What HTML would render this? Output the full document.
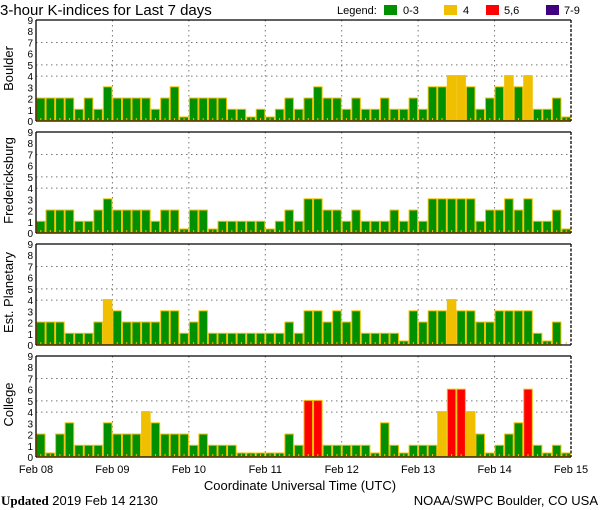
<!DOCTYPE html>
<html><head><meta charset="utf-8">
<style>
html,body{margin:0;padding:0;background:#fff;}
svg{display:block;font-family:"Liberation Sans",sans-serif;}
</style></head>
<body>
<svg id="chart" width="600" height="510" viewBox="0 0 600 510" xmlns="http://www.w3.org/2000/svg">
<text x="0" y="15" font-size="15">3-hour K-indices for Last 7 days</text>
<g font-size="11">
  <text x="337" y="14">Legend:</text>
  <rect x="384" y="5" width="13" height="10" fill="#009000"/>
  <text x="403" y="14">0-3</text>
  <rect x="444" y="5" width="13" height="10" fill="#f0c000"/>
  <text x="463" y="14">4</text>
  <rect x="486" y="5" width="13" height="10" fill="#ff0000"/>
  <text x="504" y="14">5,6</text>
  <rect x="546" y="5" width="13" height="10" fill="#400080"/>
  <text x="564" y="14">7-9</text>
</g>
<g id="panels"></g>
<text x="300" y="490" font-size="13" text-anchor="middle">Coordinate Universal Time (UTC)</text>
<text x="1" y="505" font-size="13"><tspan font-family="Liberation Serif" font-weight="bold">Updated</tspan> 2019 Feb 14 2130</text>
<text x="598" y="505" font-size="13" text-anchor="end">NOAA/SWPC Boulder, CO USA</text>
</svg>
<script>
const stations = ["Boulder", "Fredericksburg", "Est. Planetary", "College"];
const dayLabels = ["Feb 08", "Feb 09", "Feb 10", "Feb 11", "Feb 12", "Feb 13", "Feb 14", "Feb 15"];
const yTicks = [0,1,2,3,4,5,6,7,8,9];
const boulderK = [2,2,2,2,1,2,1,3, 2,2,2,2,1,2,3,0, 2,2,2,2,1,1,0,1, 0,1,2,1,2,3,2,2, 1,2,1,1,2,1,1,2, 1,3,3,4,4,3,1,2, 3,4,3,4,1,1,2,0];
const fredericksburgK = [1,2,2,2,1,1,2,3, 2,2,2,2,1,2,2,0, 2,2,0,1,1,1,1,1, 0,1,2,1,3,3,2,2, 1,2,1,1,1,2,1,2, 1,3,3,3,3,3,1,2, 2,3,2,3,1,1,2,0];
const planetaryK = [2,2,2,1,1,1,2,4, 3,2,2,2,2,3,3,1, 2,3,1,1,1,1,1,1, 1,1,2,1,3,3,2,3, 2,3,1,1,1,1,0,3, 2,3,3,4,3,3,2,2, 3,3,3,3,1,0,2,null];
const collegeK = [2,0,2,3,1,1,1,3, 2,2,2,4,3,2,2,2, 1,2,1,1,1,0,0,0, 0,0,2,1,5,5,1,1, 1,1,1,0,3,1,0,1, 1,1,4,6,6,4,2,0, 1,2,3,6,1,0,1,0];
const series = [boulderK, fredericksburgK, planetaryK, collegeK];

const NS = "http://www.w3.org/2000/svg";
const X0 = 36, X1 = 571, PH = 101, PT = [20,132,244,356];
const nBars = 56;
const xScale = i => X0 + (X1 - X0) * i / nBars;
function yScale(top, v){ return top + PH - v * PH / 9; }
function color(v){ return v >= 7 ? "#400080" : v >= 5 ? "#ff0000" : v >= 4 ? "#f0c000" : "#009000"; }
function mk(tag, attrs, parent){ const e = document.createElementNS(NS, tag); for (const k in attrs) e.setAttribute(k, attrs[k]); parent.appendChild(e); return e; }
const root = document.getElementById("panels");

stations.forEach((name, p) => {
  const top = PT[p], bot = top + PH;
  const g = mk("g", {}, root);
  
  
  [4,5,7].forEach(v => {
    const l = mk("line", {x1:X0, x2:X1, y1:yScale(top,v), y2:yScale(top,v), stroke:"#777", "stroke-dasharray":"1.5,3.5"}, g);
    
    
  });
  for (let d = 1; d < 7; d++) {
    const x = xScale(d*8);
    const l = mk("line", {x1:x, x2:x, y1:top, y2:bot, stroke:"#777", "stroke-dasharray":"1.5,3.5"}, g);
    
    
  }
  series[p].forEach((v, i) => {
    if (v === null) return;
    const x = xScale(i), w = xScale(i+1) - x;
    const h = v === 0 ? 3.5 : v * PH / 9;
    const r = mk("rect", {x:x+0.5, y:bot-h-0.5, width:w-1, height:h, fill:color(v), stroke:"#f0c000", "stroke-width":1}, g);
    
    
  });
  for (let i = 0; i < nBars; i++) {
    const cx = (xScale(i) + xScale(i+1)) / 2;
    const t = mk("rect", {x:cx-0.5, y:bot-3, width:1, height:2, fill:"#f0c000"}, g);
    
    
  }
  const fr = [
    mk("line", {x1:X0, x2:X1, y1:top, y2:top, stroke:"#000", "stroke-width":1.3}, g),
    mk("line", {x1:X0, x2:X1, y1:bot, y2:bot, stroke:"#000", "stroke-width":1.3}, g),
    mk("line", {x1:X0, x2:X0, y1:top, y2:bot, stroke:"#000", "stroke-width":1.3}, g),
    mk("line", {x1:X1, x2:X1, y1:top, y2:bot, stroke:"#000", "stroke-width":1.3, "stroke-dasharray":"3,1.5"}, g)
  ];
  fr.forEach(l => {   });
  yTicks.forEach(v => {
    const t = mk("text", {x:33, y:yScale(top,v)+4, "font-size":10, "text-anchor":"end"}, g);
    t.textContent = v;
    
    
  });
  const lab = mk("text", {x:0, y:0, "font-size":13, "text-anchor":"middle", transform:`translate(13,${top+PH/2-2}) rotate(-90)`}, g);
  lab.textContent = name;
  
  
});
dayLabels.forEach((d, i) => {
  const t = mk("text", {x:xScale(i*8), y:473, "font-size":11, "text-anchor":"middle"}, document.getElementById("chart"));
  t.textContent = d;
  
  
});
</script>
</body></html>
